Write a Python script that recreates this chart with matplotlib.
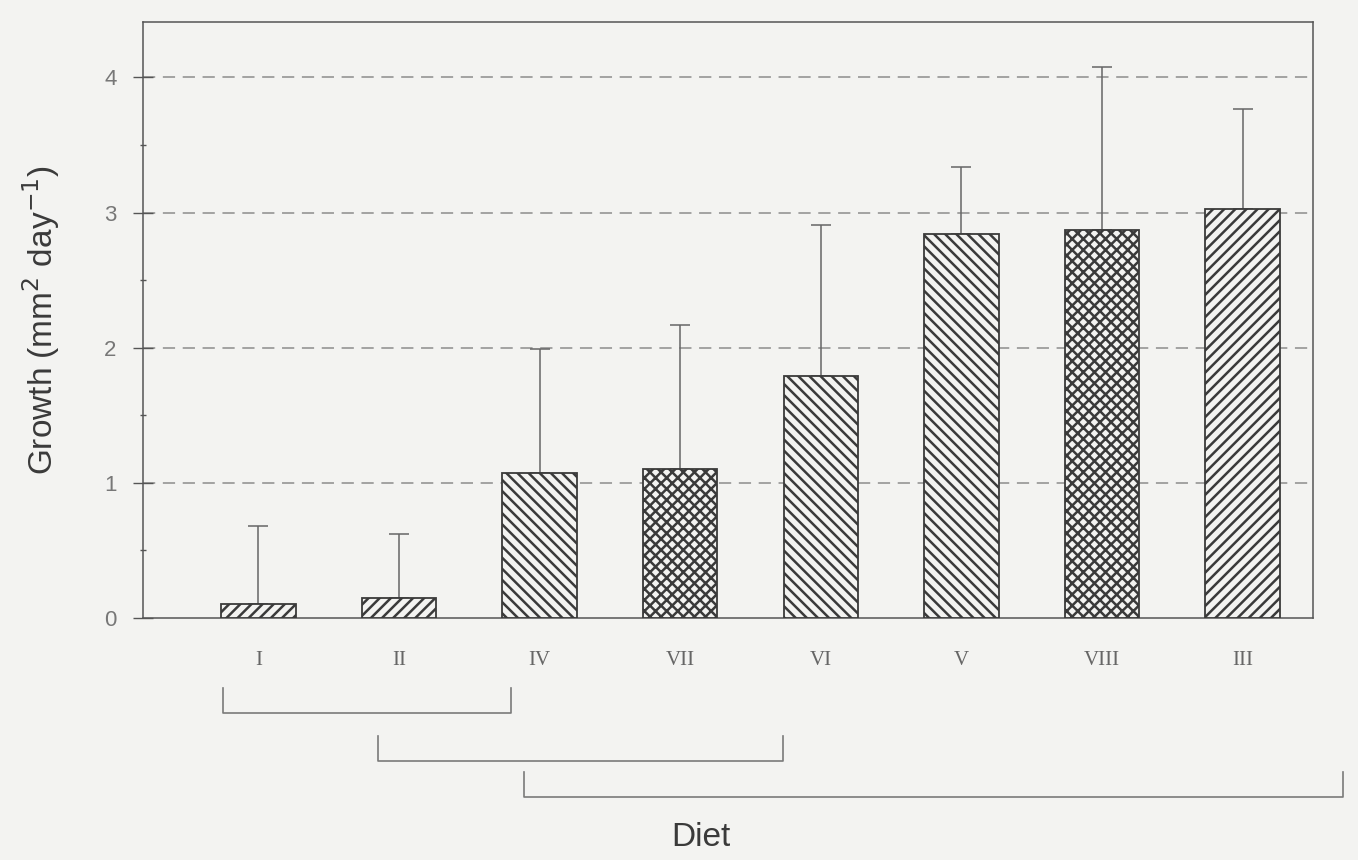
#!/usr/bin/env python3
"""Growth per diet, bar chart with upward SD bars and homogeneous-group brackets."""

import matplotlib

matplotlib.use("Agg")
import matplotlib.pyplot as plt

# data
diets = ["I", "II", "IV", "VII", "VI", "V", "VIII", "III"]
growth = [0.10, 0.15, 1.07, 1.10, 1.79, 2.84, 2.87, 3.03]
growth_upper = [0.68, 0.62, 1.99, 2.17, 2.91, 3.34, 4.08, 3.77]
hatches = ["///", "///", "\\\\\\", "xxx", "\\\\\\", "\\\\\\", "xxx", "///"]
# homogeneous groups (start, end) in bar-position units
group_spans = [(-0.25, 1.80), (0.85, 3.73), (1.89, 7.71)]
group_levels = [-0.16, -0.24, -0.30]

BG = "#f3f3f1"
INK = "#3a3a3a"


def main() -> None:
    plt.rcParams["hatch.linewidth"] = 1.8
    fig = plt.figure(figsize=(13.58, 8.6), dpi=100, facecolor=BG)
    ax = fig.add_axes([0.1053, 0.2814, 0.8616, 0.693], facecolor=BG)

    x = list(range(len(diets)))
    err = [u - g for u, g in zip(growth_upper, growth)]

    for yv in [1, 2, 3, 4]:
        ax.axhline(yv, color="#8c8c8c", linestyle=(0, (8, 5)), linewidth=1.1, zorder=1)

    ax.errorbar(x, growth, yerr=[[0] * len(err), err], fmt="none", ecolor="#666666",
                elinewidth=1.1, capsize=7.5, capthick=1.1, zorder=2)
    for xi, g, h in zip(x, growth, hatches):
        ax.bar(xi, g, width=0.53, facecolor=BG, edgecolor=INK, hatch=h, linewidth=1.3, zorder=3)

    ax.set_xlim(-0.82, 7.5)
    ax.set_ylim(0, 4.41)
    ax.set_xticks(x)
    ax.set_xticklabels(diets, family="Liberation Serif", fontsize=15, color="#666666")
    ax.tick_params(axis="x", length=0, pad=24)
    ax.set_yticks([0, 1, 2, 3, 4])
    ax.set_yticks([0.5, 1.5, 2.5, 3.5], minor=True)
    ax.set_yticklabels(["0", "1", "2", "3", "4"], family="Liberation Sans", fontsize=16, color="#777777")
    ax.tick_params(axis="y", which="major", direction="inout", length=14, width=1.0, color="#555555", pad=12)
    ax.tick_params(axis="y", which="minor", direction="inout", length=5, width=1.0, color="#555555")
    for side in ax.spines.values():
        side.set_color("#555555")
        side.set_linewidth(1.1)

    ax.set_ylabel("Growth (mm$^2$ day$^{-1}$)", family="Liberation Sans", fontsize=24,
                  color=INK, labelpad=30)

    trans = ax.get_xaxis_transform()
    for (x0, x1), lvl in zip(group_spans, group_levels):
        ax.plot([x0, x0, x1, x1], [lvl + 0.042, lvl, lvl, lvl + 0.042], transform=trans,
                color="#7a7a7a", linewidth=1.2, clip_on=False)

    fig.text(0.516, 0.026, "Diet", family="Liberation Sans", fontsize=24, color=INK,
             ha="center", va="center")

    fig.savefig("out.png", dpi=100, facecolor=BG)
    plt.close(fig)


if __name__ == "__main__":
    main()
